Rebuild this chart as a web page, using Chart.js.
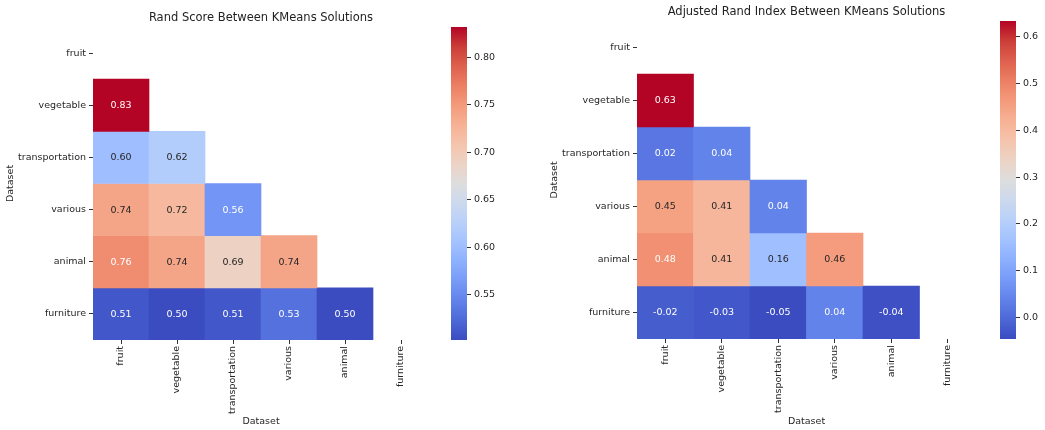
<!DOCTYPE html>
<html>
<head>
<meta charset="utf-8">
<script src="https://cdn.jsdelivr.net/npm/chart.js@4.4.0/dist/chart.umd.min.js"></script>
<style>
    html, body { margin: 0; padding: 0; background: #fff; overflow: hidden; width: 1045px; height: 430px; }
    canvas { position: absolute; top: 0; }
</style>
</head>
<body>
<canvas id="rand-map" width="440" height="430" style="left:0"></canvas>
<canvas id="rand-bar" width="70" height="430" style="left:451px"></canvas>
<canvas id="ari-map" width="443" height="430" style="left:544px"></canvas>
<canvas id="ari-bar" width="60" height="430" style="left:1000px"></canvas>
<script>
// rows and columns share the same dataset names (lower triangle only)
const datasetNames = ['fruit', 'vegetable', 'transportation', 'various', 'animal', 'furniture'];

const randScore = [
    [],
    [0.832],
    [0.60, 0.62],
    [0.74, 0.72, 0.56],
    [0.76, 0.74, 0.69, 0.74],
    [0.51, 0.502, 0.51, 0.53, 0.502]
];
const randMin = 0.502;
const randMax = 0.832;
const randTicks = [0.55, 0.60, 0.65, 0.70, 0.75, 0.80];

const adjRandIndex = [
    [],
    [0.634],
    [0.02, 0.04],
    [0.45, 0.41, 0.04],
    [0.48, 0.41, 0.16, 0.46],
    [-0.02, -0.03, -0.046, 0.04, -0.04]
];
const ariMin = -0.046;
const ariMax = 0.634;
const ariTicks = [0.0, 0.1, 0.2, 0.3, 0.4, 0.5, 0.6];

// matplotlib coolwarm, sampled every 1/16
const coolwarmStops = [
    [59, 76, 192], [77, 104, 215], [98, 130, 234], [119, 154, 247], [141, 176, 254],
    [163, 194, 255], [184, 208, 249], [204, 217, 238], [221, 221, 221], [236, 211, 197],
    [245, 196, 173], [247, 177, 148], [244, 154, 123], [236, 127, 99], [222, 96, 77],
    [203, 62, 56], [180, 4, 38]
];

Chart.defaults.font.family = "'DejaVu Sans', sans-serif";
Chart.defaults.font.size = 9.5;
Chart.defaults.color = '#262626';

function coolwarmRgb(t) {
    if (!Number.isFinite(t)) {
        t = 0.5;
    }
    t = Math.min(1, Math.max(0, t));
    const pos = t * (coolwarmStops.length - 1);
    const i = Math.min(coolwarmStops.length - 2, Math.floor(pos));
    const f = pos - i;
    const a = coolwarmStops[i];
    const b = coolwarmStops[i + 1];
    return [0, 1, 2].map(k => Math.round(a[k] + (b[k] - a[k]) * f));
}

function coolwarm(t) {
    const c = coolwarmRgb(t);
    return 'rgb(' + c.join(',') + ')';
}

function luminance(rgb) {
    const lin = rgb.map(v => {
        v = v / 255;
        return v <= 0.03928 ? v / 12.92 : Math.pow((v + 0.055) / 1.055, 2.4);
    });
    return 0.2126 * lin[0] + 0.7152 * lin[1] + 0.0722 * lin[2];
}

const panelTitle = {
    id: 'panelTitle',
    afterDraw(chart, args, opts) {
        const ctx = chart.ctx;
        const area = chart.chartArea;
        ctx.save();
        ctx.font = "11.5px 'DejaVu Sans', sans-serif";
        ctx.fillStyle = '#222';
        ctx.textAlign = 'center';
        ctx.textBaseline = 'alphabetic';
        ctx.fillText(opts.text, (area.left + area.right) / 2, area.top - 6);
        ctx.restore();
    }
};

const cellLabels = {
    id: 'cellLabels',
    afterDatasetsDraw(chart, args, opts) {
        const ctx = chart.ctx;
        ctx.save();
        ctx.font = "9.5px 'DejaVu Sans', sans-serif";
        ctx.textAlign = 'center';
        ctx.textBaseline = 'middle';
        chart.data.datasets.forEach((ds, r) => {
            chart.getDatasetMeta(r).data.forEach((bar, j) => {
                const v = opts.values[r][j];
                if (v === undefined) {
                    return;
                }
                const p = bar.getProps(['x', 'y', 'base'], true);
                const rgb = coolwarmRgb((v - opts.vmin) / (opts.vmax - opts.vmin));
                ctx.fillStyle = luminance(rgb) > 0.408 ? '#262626' : '#ffffff';
                ctx.fillText(v.toFixed(2), p.x, (p.y + p.base) / 2 + 0.5);
            });
        });
        ctx.restore();
    }
};

function buildHeatmap(canvasId, title, values, vmin, vmax, box) {
    const datasets = datasetNames.map((name, r) => ({
        label: name,
        data: datasetNames.map((c, j) => j < values[r].length ? [r, r + 1] : null),
        backgroundColor: ctx => coolwarm((values[r][ctx.dataIndex] - vmin) / (vmax - vmin)),
        borderWidth: 0,
        grouped: false,
        barPercentage: 1,
        categoryPercentage: 1
    }));

    return new Chart(document.getElementById(canvasId), {
        type: 'bar',
        data: { labels: datasetNames, datasets: datasets },
        plugins: [panelTitle, cellLabels],
        options: {
            responsive: false,
            animation: false,
            layout: { padding: { top: box.top, right: box.right, left: 0, bottom: 0 } },
            plugins: {
                legend: { display: false },
                tooltip: { enabled: false },
                panelTitle: { text: title },
                cellLabels: { values: values, vmin: vmin, vmax: vmax }
            },
            scales: {
                x: {
                    type: 'category',
                    offset: true,
                    grid: { offset: false, drawOnChartArea: false, tickLength: 4, color: '#333' },
                    border: { display: false },
                    ticks: { minRotation: 90, maxRotation: 90, autoSkip: false, padding: 2 },
                    title: { display: true, text: 'Dataset', padding: { top: 2, bottom: 3 } },
                    afterFit: s => { s.height = box.xHeight; }
                },
                y: {
                    type: 'linear',
                    min: 0,
                    max: datasetNames.length,
                    reverse: true,
                    grid: { drawOnChartArea: false, tickLength: 4, color: '#333' },
                    border: { display: false },
                    afterBuildTicks: s => { s.ticks = datasetNames.map((n, i) => ({ value: i + 0.5 })); },
                    ticks: { autoSkip: false, padding: 3, callback: (v, i) => datasetNames[i] },
                    title: { display: true, text: 'Dataset', padding: { top: 5, bottom: 2 } },
                    afterFit: s => { s.width = box.yWidth; }
                }
            }
        }
    });
}

function buildColorbar(canvasId, vmin, vmax, ticks, digits, box) {
    return new Chart(document.getElementById(canvasId), {
        type: 'bar',
        data: {
            labels: [''],
            datasets: [{
                data: [[vmin, vmax]],
                borderWidth: 0,
                barPercentage: 1,
                categoryPercentage: 1,
                backgroundColor: ctx => {
                    const area = ctx.chart.chartArea;
                    if (!area) {
                        return coolwarm(0.5);
                    }
                    const g = ctx.chart.ctx.createLinearGradient(0, area.bottom, 0, area.top);
                    coolwarmStops.forEach((c, i) => {
                        g.addColorStop(i / (coolwarmStops.length - 1), 'rgb(' + c.join(',') + ')');
                    });
                    return g;
                }
            }]
        },
        options: {
            responsive: false,
            animation: false,
            layout: { padding: { top: box.top, bottom: box.bottom, left: 0, right: 0 } },
            plugins: { legend: { display: false }, tooltip: { enabled: false } },
            scales: {
                x: { display: false },
                y: {
                    position: 'right',
                    min: vmin,
                    max: vmax,
                    grid: { drawOnChartArea: false, tickLength: 4, color: '#333' },
                    border: { display: false },
                    afterBuildTicks: s => { s.ticks = ticks.map(v => ({ value: v })); },
                    ticks: { padding: 3, callback: v => v.toFixed(digits) },
                    afterFit: s => { s.width = box.axisWidth; }
                }
            }
        }
    });
}

buildHeatmap('rand-map', 'Rand Score Between KMeans Solutions', randScore, randMin, randMax,
    { top: 27, right: 11, yWidth: 93, xHeight: 90 });
buildColorbar('rand-bar', randMin, randMax, randTicks, 2,
    { top: 27, bottom: 90, axisWidth: 54 });

buildHeatmap('ari-map', 'Adjusted Rand Index Between KMeans Solutions', adjRandIndex, ariMin, ariMax,
    { top: 21, right: 11, yWidth: 93, xHeight: 91 });
buildColorbar('ari-bar', ariMin, ariMax, ariTicks, 1,
    { top: 21, bottom: 91, axisWidth: 44 });
</script>
</body>
</html>
